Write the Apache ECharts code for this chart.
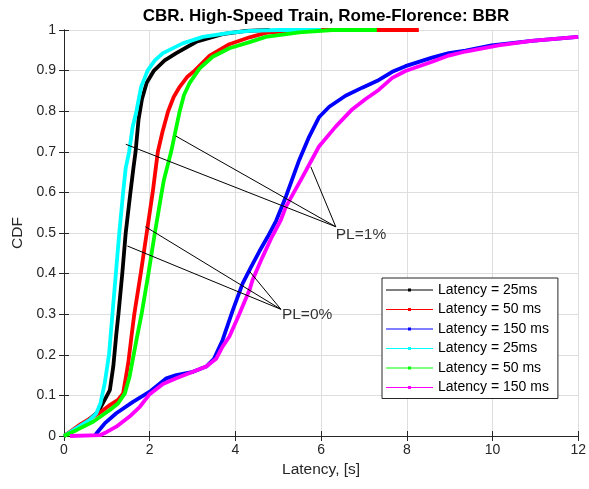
<!DOCTYPE html>
<html>
<head>
<meta charset="utf-8">
<script src="https://cdn.jsdelivr.net/npm/echarts@6/dist/echarts.min.js"></script>
<style>html,body{margin:0;padding:0;background:#fff;}#c{width:589px;height:489px;}</style>
</head>
<body>
<div id="c"></div>
<script>
// ---- data (x = latency [s], y = CDF) ----
const black25 = [[0,0],[0.4,0.025],[0.8,0.06],[0.99,0.097],[1.07,0.113],[1.15,0.171],[1.22,0.25],[1.27,0.3],[1.36,0.4],[1.44,0.5],[1.55,0.6],[1.62,0.66],[1.67,0.7],[1.74,0.78],[1.82,0.83],[1.93,0.87],[2.1,0.9],[2.35,0.925],[2.62,0.943],[3.09,0.971],[3.7,0.99],[4.25,0.998],[4.8,1.0]];
const red50 = [[0,0],[0.4,0.03],[0.8,0.055],[1.07,0.076],[1.26,0.089],[1.38,0.105],[1.5,0.18],[1.58,0.25],[1.64,0.3],[1.79,0.4],[1.93,0.5],[2.07,0.6],[2.13,0.65],[2.19,0.7],[2.3,0.75],[2.43,0.8],[2.56,0.835],[2.7,0.86],[2.88,0.885],[3.05,0.9],[3.4,0.937],[3.86,0.965],[4.33,0.982],[4.71,0.993],[5.49,1.0],[8.28,1.0]];
const blue150 = [[0.72,0],[0.76,0.007],[0.95,0.031],[1.22,0.056],[1.61,0.084],[2.0,0.109],[2.39,0.142],[2.62,0.15],[3.01,0.158],[3.32,0.171],[3.5,0.19],[3.7,0.236],[3.94,0.31],[4.17,0.376],[4.37,0.417],[4.56,0.455],[4.75,0.49],[4.95,0.53],[5.18,0.59],[5.49,0.68],[5.72,0.737],[5.95,0.785],[6.19,0.811],[6.57,0.838],[6.96,0.858],[7.35,0.877],[7.66,0.897],[7.97,0.911],[8.59,0.932],[8.98,0.943],[9.37,0.949],[9.98,0.962],[10.91,0.973],[12,0.983]];
const cyan25 = [[0,0],[0.3,0.02],[0.6,0.04],[0.75,0.055],[0.85,0.08],[0.95,0.13],[1.05,0.2],[1.13,0.3],[1.21,0.4],[1.29,0.5],[1.38,0.6],[1.44,0.66],[1.52,0.7],[1.6,0.76],[1.69,0.8],[1.8,0.86],[1.95,0.9],[2.12,0.925],[2.31,0.943],[2.77,0.967],[3.24,0.983],[3.86,0.993],[4.33,0.998],[5.0,1.0],[6.0,1.0]];
const green50 = [[0,0],[0.3,0.015],[0.68,0.035],[1.07,0.064],[1.26,0.08],[1.42,0.105],[1.53,0.146],[1.69,0.236],[1.81,0.3],[1.97,0.4],[2.12,0.5],[2.28,0.6],[2.33,0.63],[2.5,0.7],[2.7,0.8],[2.8,0.84],[2.93,0.869],[3.16,0.905],[3.47,0.934],[3.86,0.955],[4.33,0.97],[4.71,0.983],[5.49,0.994],[6.26,1.0],[7.3,1.0]];
const magenta150 = [[0.14,0],[0.84,0.002],[1.0,0.01],[1.22,0.023],[1.53,0.048],[1.77,0.072],[2.0,0.103],[2.31,0.128],[2.62,0.142],[3.01,0.158],[3.32,0.171],[3.55,0.19],[3.7,0.22],[3.86,0.245],[4.09,0.3],[4.33,0.36],[4.4,0.384],[4.63,0.44],[4.85,0.49],[5.06,0.532],[5.18,0.565],[5.57,0.639],[5.95,0.713],[6.34,0.762],[6.73,0.805],[7.04,0.83],[7.35,0.853],[7.66,0.882],[7.97,0.899],[8.59,0.922],[8.98,0.937],[9.37,0.947],[10.14,0.962],[10.91,0.973],[12,0.983]];

const seriesNames = ['Latency = 25ms', 'Latency = 50 ms', 'Latency = 150 ms', 'Latency = 25ms', 'Latency = 50 ms', 'Latency = 150 ms'];
const seriesColors = ['#000000', '#ff0000', '#0000ff', '#00ffff', '#00ff00', '#ff00ff'];
const seriesData = [black25, red50, blue150, cyan25, green50, magenta150];

// annotations: apex and target points (data coords)
const pl1Apex = [6.342, 0.5155];
const pl1Targets = [[1.442, 0.7185], [2.605, 0.739], [5.76, 0.663]];
const pl0Apex = [5.062, 0.312];
const pl0Targets = [[1.48, 0.468], [1.9, 0.5155], [4.326, 0.406]];
const pl1Text = 'PL=1%';
const pl0Text = 'PL=0%';

const xTicks = {min: 0, max: 12, interval: 2};
const yTicks = {min: 0, max: 1, interval: 0.1};

const FONT = 'Liberation Sans, Arial, sans-serif';
const chart = echarts.init(document.getElementById('c'), null, {renderer: 'canvas'});

const legendNames = seriesNames.map((n, i) => n + '|' + i);
const series = seriesData.map((d, i) => ({
  name: legendNames[i],
  type: 'line',
  data: d,
  showSymbol: false,
  symbol: 'circle',
  smooth: false,
  clip: false,
  lineStyle: {color: seriesColors[i], width: 3.8},
  itemStyle: {color: seriesColors[i]},
  emphasis: {disabled: true},
  z: 2 + i
}));

series.push({
  type: 'lines',
  coordinateSystem: 'cartesian2d',
  silent: true,
  z: 20,
  lineStyle: {color: '#000', width: 1, opacity: 1},
  data: pl1Targets.map(t => ({coords: [pl1Apex, t]})).concat(pl0Targets.map(t => ({coords: [pl0Apex, t]})))
});
series.push({
  type: 'scatter',
  silent: true,
  symbolSize: 0,
  z: 21,
  data: [
    {value: pl1Apex, label: {formatter: pl1Text, offset: [-5, 8]}},
    {value: pl0Apex, label: {formatter: pl0Text, offset: [-4, 5]}}
  ],
  label: {show: true, position: 'right', color: '#000', fontSize: 15.5, fontFamily: FONT}
});

const axisLine = {show: true, lineStyle: {color: '#262626', width: 1}};
chart.setOption({
  animation: false,
  backgroundColor: '#fff',
  title: {
    text: 'CBR. High-Speed Train, Rome-Florence: BBR',
    left: 321, top: 3, textAlign: 'center',
    textStyle: {fontSize: 17, fontWeight: 'bold', color: '#000', fontFamily: FONT}
  },
  grid: {left: 64, right: 9, top: 30, bottom: 53, containLabel: false},
  legend: {
    data: legendNames,
    formatter: n => n.split('|')[0],
    orient: 'vertical',
    left: 382, top: 278,
    padding: [5, 9, 4, 4],
    itemWidth: 47, itemHeight: 14, itemGap: 5.5,
    icon: 'path://M0,6.5h47v1h-47z M22,5.5h3v3h-3z',
    backgroundColor: '#fff',
    borderColor: '#262626', borderWidth: 1, borderRadius: 0,
    selectedMode: false,
    textStyle: {fontSize: 14, color: '#000', fontFamily: FONT, padding: [0, 0, 0, 0]}
  },
  xAxis: [{
    type: 'value', min: xTicks.min, max: xTicks.max, interval: xTicks.interval,
    name: 'Latency, [s]', nameLocation: 'middle', nameGap: 24,
    nameTextStyle: {fontSize: 15.5, color: '#262626', fontFamily: FONT},
    axisLine: axisLine,
    axisTick: {show: true, inside: true, length: 5, lineStyle: {color: '#262626'}},
    axisLabel: {fontSize: 14, color: '#262626', margin: 7, fontFamily: FONT},
    splitLine: {show: true, lineStyle: {color: '#dedede', width: 1}}
  }, {
    type: 'value', position: 'top', min: xTicks.min, max: xTicks.max, interval: xTicks.interval,
    axisLine: axisLine,
    axisTick: {show: true, inside: true, length: 5, lineStyle: {color: '#262626'}},
    axisLabel: {show: false}, splitLine: {show: false}
  }],
  yAxis: [{
    type: 'value', min: yTicks.min, max: yTicks.max, interval: yTicks.interval,
    name: 'CDF', nameLocation: 'middle', nameGap: 37,
    nameTextStyle: {fontSize: 15.5, color: '#262626', fontFamily: FONT},
    axisLine: axisLine,
    axisTick: {show: true, inside: true, length: 5, lineStyle: {color: '#262626'}},
    axisLabel: {fontSize: 14, color: '#262626', margin: 8, fontFamily: FONT,
      formatter: v => (Math.round(v * 10) / 10).toString()},
    splitLine: {show: true, lineStyle: {color: '#dedede', width: 1}}
  }, {
    type: 'value', position: 'right', min: yTicks.min, max: yTicks.max, interval: yTicks.interval,
    axisLine: axisLine,
    axisTick: {show: true, inside: true, length: 5, lineStyle: {color: '#262626'}},
    axisLabel: {show: false}, splitLine: {show: false}
  }],
  series: series
});
</script>
</body>
</html>
